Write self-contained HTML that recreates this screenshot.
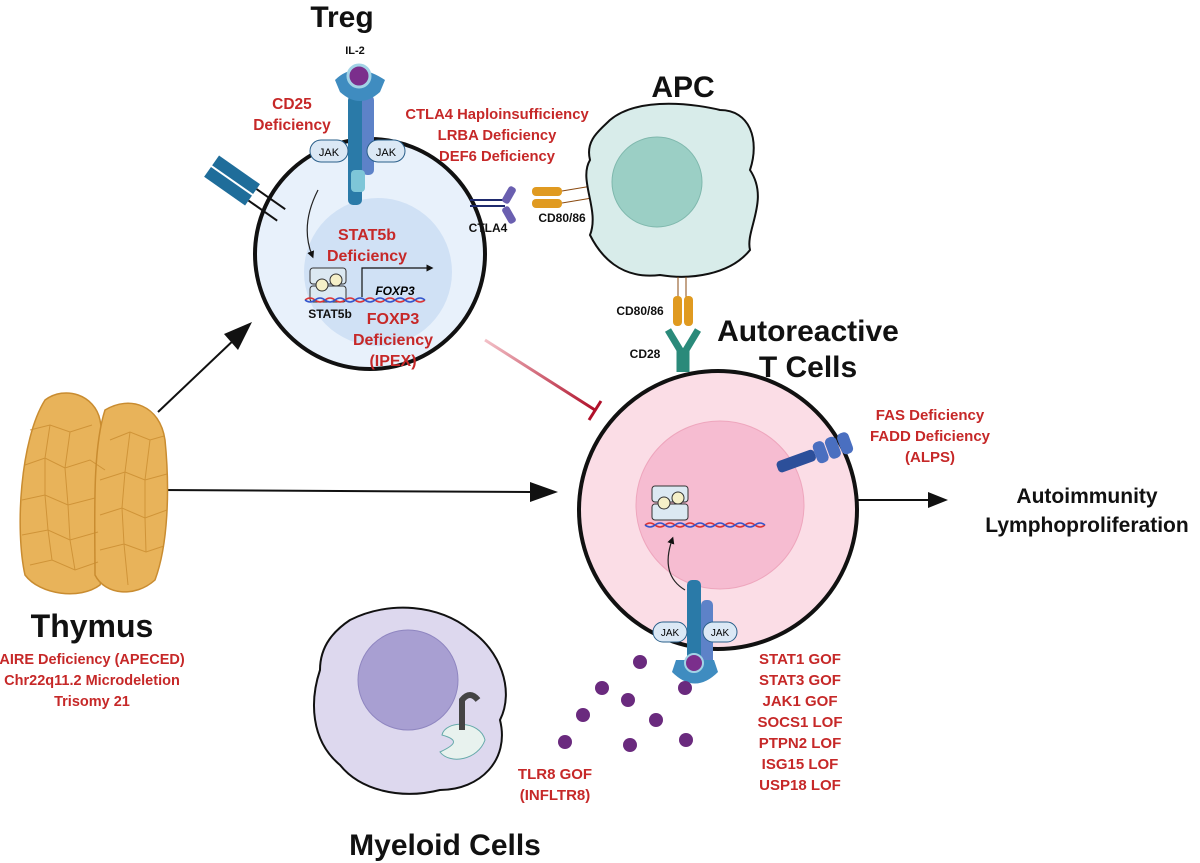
<!DOCTYPE html>
<html><head><meta charset="utf-8"><style>
body{margin:0;background:#fff}
svg{display:block}
.r{fill:#c62828;font-family:"Liberation Sans",sans-serif;font-weight:bold;text-anchor:middle}
.k{fill:#111;font-family:"Liberation Sans",sans-serif;font-weight:bold;text-anchor:middle}
.s{fill:#111;font-family:"Liberation Sans",sans-serif;font-weight:bold;text-anchor:middle}
</style></head><body>
<svg width="1200" height="863" viewBox="0 0 1200 863">
<defs>
<marker id="ah" markerWidth="6" markerHeight="6" refX="3" refY="3" orient="auto"><path d="M0,0L6,3L0,6z" fill="#111"/></marker>
<linearGradient id="rg" x1="0" y1="0" x2="1" y2="1"><stop offset="0" stop-color="#f3c1c8"/><stop offset="1" stop-color="#b0102a"/></linearGradient>
</defs>
<!-- arrows -->
<line x1="158" y1="412" x2="238" y2="336" stroke="#111" stroke-width="2"/>
<path d="M252,322 L224,334 L238,350 z" fill="#111"/>
<line x1="160" y1="490" x2="530" y2="492" stroke="#111" stroke-width="2"/>
<path d="M558,492 L530,482 L530,502 z" fill="#111"/>
<line x1="485" y1="340" x2="595" y2="410" stroke="url(#rg)" stroke-width="3"/>
<line x1="589" y1="420" x2="601" y2="401" stroke="#b0102a" stroke-width="3"/>
<line x1="856" y1="500" x2="930" y2="500" stroke="#111" stroke-width="2"/>
<path d="M948,500 L928,492 L928,508 z" fill="#111"/>

<!-- Thymus -->
<g fill="#e8b35a" stroke="#c98c30" stroke-width="1.5">
<path d="M45,400 C65,385 95,395 100,420 C110,470 115,540 100,585 C80,600 40,595 25,575 C15,530 20,440 45,400z"/>
<path d="M105,410 C130,395 160,405 165,440 C170,490 168,545 155,580 C135,598 105,595 95,575 C95,520 92,450 105,410z"/>
</g>
<g fill="none" stroke="#c98c30" stroke-width="1" opacity="0.8">
<path d="M30,430 L50,425 L70,432 L92,425 M25,465 L45,458 L65,468 L90,460 L105,470 M22,500 L45,495 L68,505 L95,498 M22,535 L48,530 L70,540 L98,532 M30,565 L52,560 L75,570 L98,562 M50,425 L45,458 L45,495 L48,530 L52,560 M70,432 L65,468 L68,505 L70,540 L75,570"/>
<path d="M110,440 L130,432 L150,440 L164,436 M100,480 L125,472 L145,480 L167,474 M100,515 L122,508 L145,518 L167,510 M100,550 L124,544 L146,552 L164,546 M130,432 L125,472 L122,508 L124,544 L128,585 M150,440 L145,480 L145,518 L146,552"/>
</g>
<text class="k" x="92" y="637" style="font-size:32px">Thymus</text>
<g class="r" style="font-size:14.5px">
<text x="92" y="664">AIRE Deficiency (APECED)</text>
<text x="92" y="685">Chr22q11.2 Microdeletion</text>
<text x="92" y="706">Trisomy 21</text>
</g>

<!-- Treg -->
<text class="k" x="342" y="27" style="font-size:30px">Treg</text>
<text class="s" x="355" y="54" style="font-size:11px">IL-2</text>
<circle cx="370" cy="254" r="115" fill="#e8f1fb" stroke="#111" stroke-width="4"/>
<circle cx="378" cy="272" r="74" fill="#d0e1f5"/>
<rect x="348" y="95" width="14" height="110" rx="5" fill="#2a7aa8"/>
<rect x="362" y="95" width="12" height="80" rx="5" fill="#5d82c8"/>
<rect x="351" y="170" width="14" height="22" rx="4" fill="#7ec6d8"/>
<path d="M335,80 Q355,60 385,80 L380,92 Q360,110 340,92z" fill="#3f8cc0"/>
<circle cx="359" cy="76" r="11" fill="#7b2e8c" stroke="#a2d3e6" stroke-width="3"/>
<rect x="310" y="140" width="38" height="22" rx="11" fill="#dbe8f5" stroke="#2a5f8a"/>
<text x="329" y="156" font-size="11" font-family="Liberation Sans" text-anchor="middle">JAK</text>
<rect x="367" y="140" width="38" height="22" rx="11" fill="#dbe8f5" stroke="#2a5f8a"/>
<text x="386" y="156" font-size="11" font-family="Liberation Sans" text-anchor="middle">JAK</text>
<g class="r" style="font-size:15.5px"><text x="292" y="109">CD25</text><text x="292" y="130">Deficiency</text></g>
<g transform="rotate(35 235 185)"><rect x="205" y="170" width="50" height="12" fill="#1f6d9a"/><rect x="205" y="184" width="50" height="12" fill="#1f6d9a"/><line x1="255" y1="176" x2="290" y2="176" stroke="#111" stroke-width="2"/><line x1="255" y1="190" x2="290" y2="190" stroke="#111" stroke-width="2"/></g>
<path d="M318,190 Q300,225 312,255" fill="none" stroke="#222" stroke-width="1.2" marker-end="url(#ah)"/>
<g class="r" style="font-size:16px"><text x="367" y="240">STAT5b</text><text x="367" y="261">Deficiency</text></g>
<rect x="310" y="268" width="36" height="16" rx="3" fill="#dce9f2" stroke="#333"/>
<rect x="310" y="286" width="36" height="16" rx="3" fill="#dce9f2" stroke="#333"/>
<circle cx="322" cy="285" r="6" fill="#f5f0c8" stroke="#333"/><circle cx="336" cy="280" r="6" fill="#f5f0c8" stroke="#333"/>
<path d="M362,297 L362,268 L430,268" fill="none" stroke="#111" stroke-width="1.2" marker-end="url(#ah)"/>
<path d="M305,300 q5,-4 10,0 t10,0 t10,0 t10,0 t10,0 t10,0 t10,0 t10,0 t10,0 t10,0 t10,0 t10,0" fill="none" stroke="#d33" stroke-width="1.5"/>
<path d="M305,300 q5,4 10,0 t10,0 t10,0 t10,0 t10,0 t10,0 t10,0 t10,0 t10,0 t10,0 t10,0 t10,0" fill="none" stroke="#35c" stroke-width="1.5"/>
<text x="395" y="295" font-size="12" font-weight="bold" font-style="italic" font-family="Liberation Sans" text-anchor="middle">FOXP3</text>
<text class="s" x="330" y="318" style="font-size:12px">STAT5b</text>
<g class="r" style="font-size:16px"><text x="393" y="324">FOXP3</text><text x="393" y="345">Deficiency</text><text x="393" y="366">(IPEX)</text></g>

<!-- CTLA4 -->
<g class="r" style="font-size:14.8px"><text x="497" y="119">CTLA4 Haploinsufficiency</text><text x="497" y="140">LRBA Deficiency</text><text x="497" y="161">DEF6 Deficiency</text></g>
<path d="M470,200 L505,200 M470,206 L505,206" stroke="#1f2a6e" stroke-width="2"/>
<rect x="505" y="186" width="8" height="18" rx="3" transform="rotate(30 509 195)" fill="#6a5fb0"/>
<rect x="505" y="206" width="8" height="18" rx="3" transform="rotate(-30 509 215)" fill="#6a5fb0"/>
<text class="s" x="488" y="232" style="font-size:12px">CTLA4</text>
<text class="s" x="562" y="222" style="font-size:12px">CD80/86</text>
<rect x="532" y="187" width="30" height="9" rx="4" fill="#e09a20"/><rect x="532" y="199" width="30" height="9" rx="4" fill="#e09a20"/>
<line x1="562" y1="191" x2="592" y2="186" stroke="#8a4a10"/><line x1="562" y1="203" x2="592" y2="198" stroke="#8a4a10"/>

<!-- APC -->
<text class="k" x="683" y="97" style="font-size:30px">APC</text>
<path d="M610,120 C640,95 700,105 720,110 C750,110 760,140 750,170 C770,200 745,230 750,250 C730,275 690,280 660,275 C620,280 600,255 590,235 C600,210 578,180 590,160 C585,140 600,130 610,120z" fill="#d8ecea" stroke="#111" stroke-width="2"/>
<circle cx="657" cy="182" r="45" fill="#9bcfc5" stroke="#7fb8ad"/>
<line x1="678" y1="277" x2="678" y2="300" stroke="#8a4a10"/><line x1="686" y1="277" x2="686" y2="300" stroke="#8a4a10"/>
<rect x="673" y="296" width="9" height="30" rx="4" fill="#e09a20"/><rect x="684" y="296" width="9" height="30" rx="4" fill="#e09a20"/>
<text class="s" x="640" y="315" style="font-size:12px">CD80/86</text>
<text class="s" x="645" y="358" style="font-size:12px">CD28</text>
<path d="M668,330 L680,350 L680,372 M698,330 L686,350 L686,372" stroke="#2a8a7a" stroke-width="7" fill="none"/>

<!-- T cell -->
<g class="k" style="font-size:30px"><text x="808" y="341">Autoreactive</text><text x="808" y="377">T Cells</text></g>
<circle cx="718" cy="510" r="139" fill="#fbdde6" stroke="#111" stroke-width="4"/>
<circle cx="720" cy="505" r="84" fill="#f6bcd1" stroke="#eea6bd"/>
<rect x="652" y="486" width="36" height="16" rx="3" fill="#dce9f2" stroke="#333"/>
<rect x="652" y="504" width="36" height="16" rx="3" fill="#dce9f2" stroke="#333"/>
<circle cx="664" cy="503" r="6" fill="#f5f0c8" stroke="#333"/><circle cx="678" cy="498" r="6" fill="#f5f0c8" stroke="#333"/>
<path d="M645,525 q5,-4 10,0 t10,0 t10,0 t10,0 t10,0 t10,0 t10,0 t10,0 t10,0 t10,0 t10,0 t10,0" fill="none" stroke="#d33" stroke-width="1.5"/>
<path d="M645,525 q5,4 10,0 t10,0 t10,0 t10,0 t10,0 t10,0 t10,0 t10,0 t10,0 t10,0 t10,0 t10,0" fill="none" stroke="#35c" stroke-width="1.5"/>
<path d="M685,590 Q660,575 672,540" fill="none" stroke="#222" stroke-width="1.2" marker-end="url(#ah)"/>
<rect x="687" y="580" width="14" height="95" rx="5" fill="#2a7aa8"/>
<rect x="701" y="600" width="12" height="75" rx="5" fill="#5d82c8"/>
<path d="M672,672 Q695,695 718,672 L714,660 L676,660z" fill="#3f8cc0"/>
<circle cx="694" cy="663" r="9" fill="#7b2e8c" stroke="#a2d3e6" stroke-width="2"/>
<rect x="653" y="622" width="34" height="20" rx="10" fill="#dbe8f5" stroke="#2a5f8a"/>
<text x="670" y="636" font-size="10" font-family="Liberation Sans" text-anchor="middle">JAK</text>
<rect x="703" y="622" width="34" height="20" rx="10" fill="#dbe8f5" stroke="#2a5f8a"/>
<text x="720" y="636" font-size="10" font-family="Liberation Sans" text-anchor="middle">JAK</text>
<g transform="rotate(-20 810 455)"><rect x="775" y="450" width="40" height="12" rx="4" fill="#2c4f9a"/><rect x="815" y="445" width="12" height="22" rx="5" fill="#4a6fc0"/><rect x="828" y="445" width="12" height="22" rx="5" fill="#4a6fc0"/><rect x="841" y="445" width="12" height="22" rx="5" fill="#4a6fc0"/></g>
<g class="r" style="font-size:15px"><text x="930" y="420">FAS Deficiency</text><text x="930" y="441">FADD Deficiency</text><text x="930" y="462">(ALPS)</text></g>
<g class="k" style="font-size:21px"><text x="1087" y="503">Autoimmunity</text><text x="1087" y="532">Lymphoproliferation</text></g>
<g class="r" style="font-size:15px"><text x="800" y="664">STAT1 GOF</text><text x="800" y="685">STAT3 GOF</text><text x="800" y="706">JAK1 GOF</text><text x="800" y="727">SOCS1 LOF</text><text x="800" y="748">PTPN2 LOF</text><text x="800" y="769">ISG15 LOF</text><text x="800" y="790">USP18 LOF</text></g>

<!-- cytokine dots -->
<g fill="#6a2a7e"><circle cx="640" cy="662" r="7"/><circle cx="685" cy="688" r="7"/><circle cx="602" cy="688" r="7"/><circle cx="628" cy="700" r="7"/><circle cx="656" cy="720" r="7"/><circle cx="583" cy="715" r="7"/><circle cx="565" cy="742" r="7"/><circle cx="630" cy="745" r="7"/><circle cx="686" cy="740" r="7"/></g>

<!-- Myeloid -->
<path d="M350,620 C390,600 440,605 470,630 C500,650 515,690 500,720 C510,760 480,790 440,790 C400,800 360,790 340,765 C310,740 310,700 320,670 C320,645 335,630 350,620z" fill="#ddd8ee" stroke="#111" stroke-width="2"/>
<circle cx="408" cy="680" r="50" fill="#a89fd2" stroke="#8f86c0"/>
<path d="M442,735 C445,720 480,720 485,740 C478,760 450,765 440,752 C455,745 460,740 442,735z" fill="#e8f2ee" stroke="#6aa"/>
<path d="M462,730 L462,700 Q470,690 478,700" stroke="#444" stroke-width="6" fill="none"/>
<g class="r" style="font-size:15px"><text x="555" y="779">TLR8 GOF</text><text x="555" y="800">(INFLTR8)</text></g>
<text class="k" x="445" y="855" style="font-size:30px">Myeloid Cells</text>
</svg>
</body></html>
